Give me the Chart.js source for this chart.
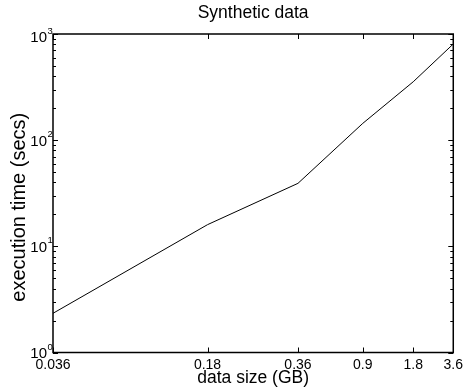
<!DOCTYPE html>
<html lang="en">
<head>
<meta charset="UTF-8">
<title>Synthetic data</title>
<script src="https://cdn.jsdelivr.net/npm/chart.js"></script>
<style>
  html, body { margin: 0; padding: 0; background: #fff; }
  #wrap { width: 467px; height: 390px; }
</style>
</head>
<body>
<div id="wrap"><canvas id="chart" width="467" height="390"></canvas></div>
<script>
// the x axis is not a plain log axis, so each size sits where it was read off the plot (0..100 along the axis)
const sizeLabels = ['0.036', '0.18', '0.36', '0.9', '1.8', '3.6'];
const sizeAxis = [0, 38.6, 61.2, 77.4, 90, 100];
const execTime = [2.34, 16.0, 39.2, 144, 355, 805];
const yDecades = [1, 10, 100, 1000];
const yTitle = 'execution time (secs)';

const FONT = '"Liberation Sans", Arial, Helvetica, sans-serif';
Chart.defaults.font.family = FONT;
Chart.defaults.color = '#000';

// matlab style box: inward ticks on all four sides, 10^n labels, y label
const frame = {
  id: 'frame',
  afterDraw(chart) {
    const { ctx, chartArea: a, scales: { x, y } } = chart;
    ctx.save();
    ctx.strokeStyle = '#000';
    ctx.lineWidth = 1;
    ctx.beginPath();
    x.ticks.forEach(t => {
      const px = Math.round(x.getPixelForValue(t.value)) + 0.5;
      ctx.moveTo(px, a.bottom); ctx.lineTo(px, a.bottom - 5);
      ctx.moveTo(px, a.top); ctx.lineTo(px, a.top + 5);
    });
    const yTicks = [];
    yDecades.forEach((d, i) => {
      yTicks.push({ v: d, len: 5 });
      if (i < yDecades.length - 1) {
        for (let k = 2; k <= 9; k++) yTicks.push({ v: k * d, len: 3 });
      }
    });
    yTicks.forEach(t => {
      const py = Math.round(y.getPixelForValue(t.v)) + 0.5;
      ctx.moveTo(a.left, py); ctx.lineTo(a.left + t.len, py);
      ctx.moveTo(a.right, py); ctx.lineTo(a.right - t.len, py);
    });
    ctx.stroke();

    ctx.lineWidth = 1.5;
    ctx.strokeRect(a.left, a.top, a.right - a.left, a.bottom - a.top);

    ctx.fillStyle = '#000';
    ctx.textBaseline = 'middle';
    yDecades.forEach((d, i) => {
      const py = Math.max(y.getPixelForValue(d) + 1.5, a.top + 4);
      ctx.font = '15px ' + FONT;
      ctx.textAlign = 'right';
      ctx.fillText('10', a.left - 6, py);
      ctx.font = '9.5px ' + FONT;
      ctx.textAlign = 'left';
      ctx.fillText(String(i), a.left - 5.5, py - 7);
    });

    // y axis title, sits a little below the middle of the box like the original
    ctx.font = '20px ' + FONT;
    ctx.textAlign = 'center';
    ctx.textBaseline = 'alphabetic';
    ctx.translate(25, (a.top + a.bottom) / 2 + 14);
    ctx.rotate(-Math.PI / 2);
    ctx.fillText(yTitle, 0, 0);
    ctx.restore();
  }
};

new Chart(document.getElementById('chart'), {
  type: 'line',
  data: {
    datasets: [{
      data: sizeAxis.map((v, i) => ({ x: v, y: execTime[i] })),
      borderColor: '#000',
      borderWidth: 1,
      pointRadius: 0,
      tension: 0,
      fill: false
    }]
  },
  options: {
    responsive: false,
    animation: false,
    devicePixelRatio: 1,
    layout: { padding: { top: 0, right: 10, bottom: 0, left: 0 } },
    plugins: {
      legend: { display: false },
      tooltip: { enabled: false },
      title: {
        display: true,
        fullSize: false,
        text: 'Synthetic data',
        color: '#000',
        font: { size: 17.5, weight: 'normal' },
        padding: { top: 3, bottom: 10 }
      }
    },
    scales: {
      x: {
        type: 'linear',
        min: 0,
        max: 100,
        afterBuildTicks(s) { s.ticks = sizeAxis.map(v => ({ value: v })); },
        ticks: {
          callback: (v, i) => sizeLabels[i],
          font: { size: 14 },
          color: '#000',
          padding: 4,
          maxRotation: 0,
          autoSkip: false
        },
        grid: { display: false, drawTicks: false },
        border: { display: false },
        title: {
          display: true,
          text: 'data size (GB)',
          color: '#000',
          font: { size: 17.5 },
          padding: { top: 0, bottom: 1 }
        },
        afterFit(s) { s.height = 37.5; }
      },
      y: {
        type: 'logarithmic',
        min: 1,
        max: 1000,
        ticks: { display: false },
        grid: { display: false, drawTicks: false },
        border: { display: false },
        afterFit(s) { s.width = 53; }
      }
    }
  },
  plugins: [frame]
});
</script>
</body>
</html>
